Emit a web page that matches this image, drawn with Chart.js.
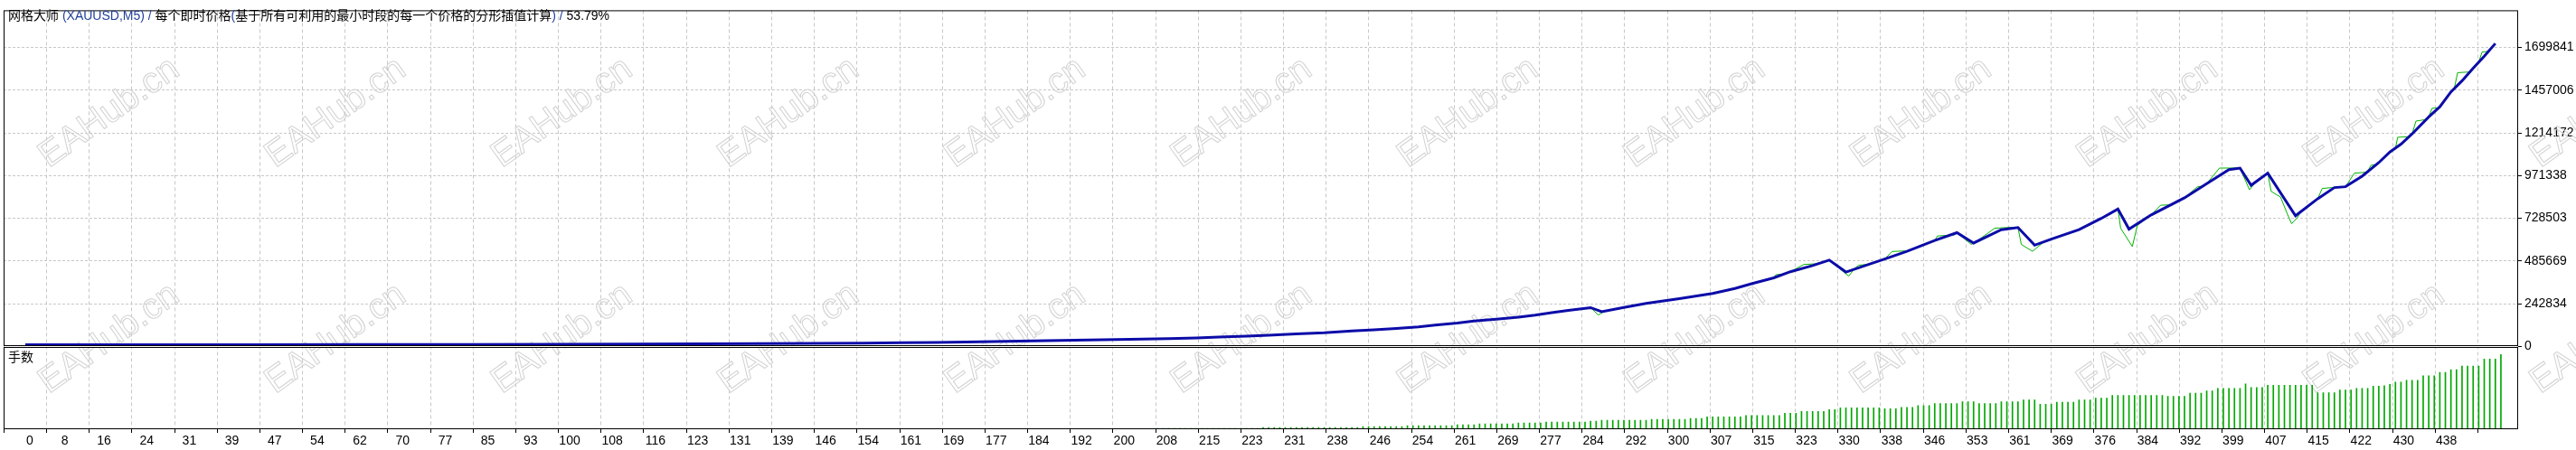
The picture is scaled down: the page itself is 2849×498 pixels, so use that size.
<!DOCTYPE html>
<html>
<head>
<meta charset="utf-8">
<title>网格大师 (XAUUSD,M5)</title>
<script src="https://cdn.jsdelivr.net/npm/chart.js@4.4.1/dist/chart.umd.min.js"></script>
<style>
  html, body { margin: 0; padding: 0; background: #fff; overflow: hidden; }
  canvas { display: block; }
</style>
</head>
<body>
<canvas id="chart" width="2849" height="498"></canvas>
<script>
// --- data ---
// title pieces: [text, is the latin part drawn in blue]
const titleParts = [
  ['网格大师 ', false],
  ['(XAUUSD,M5) / ', true],
  ['每个即时价格', false],
  ['(', true],
  ['基于所有可利用的最小时段的每一个价格的分形插值计算', false],
  [') / ', true],
  ['53.79%', false]
];
const lotsLabel = '手数';

const xTickLabels = ['0','8','16','24','31','39','47','54','62','70','77','85','93','100','108','116','123','131','139','146',
  '154','161','169','177','184','192','200','208','215','223','231','238','246','254','261','269','277','284','292','300',
  '307','315','323','330','338','346','353','361','369','376','384','392','399','407','415','422','430','438'];

const yTickValues = [0, 242834, 485669, 728503, 971338, 1214172, 1457006, 1699841];

// balance (blue) by trade number
const balanceTrades = [0,20,40,60,80,96,110,122,132,142,151,158,164,172,179,184,189,194,199,206,
  211,215,220,224,229,234,239,243,247,251,254,258,261,265,269,272,275,278,282,284,
  288,292,298,304,308,311,315,318,322,325,328,331,335,339,344,348,351,356,359,362,
  365,370,374,377,379,383,389,393,397,399,401,404,409,413,416,418,421,424,426,428,
  430,433,435,437,439,441,443,445];
const balanceValues = [10000,10200,10500,11000,11500,12300,13400,14600,15900,17400,19000,21000,23200,26500,30000,33000,36000,38500,41000,45000,
  49000,54000,59000,64000,72000,78000,88000,95000,103000,112000,122000,133000,145000,155000,167000,178000,192000,205000,221000,198000,
  222000,245000,272000,302000,330000,357000,390000,425000,460000,491000,423000,455000,497000,541000,603000,647000,588000,664000,676000,576000,
  610000,664000,728000,781000,667000,748000,845000,925000,1005000,1014000,916000,985000,743000,840000,903000,908000,968000,1045000,1105000,1150000,
  1208000,1305000,1362000,1447000,1510000,1582000,1650000,1722000];

// equity (green) by trade number
const equityTrades = [0,20,40,60,80,96,110,122,132,142,151,158,164,172,179,184,189,194,199,206,
  211,215,220,224,229,234,239,243,247,251,254,258,261,265,269,272,275,278,282,283.4,
  284.5,288,292,298,304,308,311,315,315.4,317,318,320.4,322.6,325,328.5,329.6,330.3,331.8,335,336.3,
  338.6,339,344,344.5,347.5,348,350.6,351.5,354.8,357.5,359,359.6,361.6,363.5,365,370,374,377,377.5,379.6,
  380.5,383,384.7,386.5,389,391.3,392.6,393,395.3,399,400.7,402,404,404.6,406.3,407.6,408.3,409.3,410,413,
  413.8,415.5,416,418,419.6,421.9,422.6,423.5,424,426,427,427.4,429.3,430,430.7,432.5,433,433.6,434.7,435,
  437,437.6,438.2,440.2,441,442,442.6,443.8,445];
const equityValues = [10000,10200,10500,11000,11500,12300,13400,14600,15900,17400,19000,21000,23200,26500,30000,33000,36000,38500,41000,45000,
  49000,54000,59000,64000,72000,78000,88000,95000,103000,112000,122000,133000,145000,155000,167000,178000,192000,205000,221000,179000,
  201000,222000,245000,272000,302000,330000,357000,390000,408000,412000,425000,466000,470000,491000,400000,444000,462000,466000,497000,540000,
  543000,541000,603000,628000,634000,647000,580000,597000,672000,677000,676000,580000,541000,590000,610000,664000,728000,781000,672000,568000,
  688000,748000,803000,805000,845000,907000,913000,925000,1014000,1014000,891000,939000,985000,882000,849000,748000,698000,731000,767000,840000,
  898000,903000,903000,908000,985000,991000,1030000,1034000,1045000,1105000,1127000,1189000,1192000,1208000,1281000,1290000,1305000,1354000,1356000,1362000,
  1447000,1466000,1556000,1560000,1582000,1616000,1673000,1678000,1722000];

// lot size of trades 1..445
const lots = [
  0.01,0.01,0.01,0.01,0.01,0.01,0.01,0.01,0.01,0.01,0.01,0.01,0.01,0.01,0.01,0.01,0.01,0.01,0.01,0.01,
  0.01,0.01,0.01,0.01,0.01,0.01,0.01,0.01,0.01,0.01,0.01,0.01,0.01,0.01,0.01,0.01,0.01,0.01,0.01,0.01,
  0.01,0.01,0.01,0.01,0.01,0.01,0.01,0.01,0.01,0.01,0.01,0.01,0.01,0.01,0.01,0.01,0.01,0.01,0.01,0.01,
  0.01,0.01,0.01,0.01,0.01,0.01,0.01,0.01,0.01,0.01,0.01,0.01,0.01,0.01,0.01,0.01,0.01,0.01,0.01,0.01,
  0.01,0.01,0.01,0.01,0.01,0.01,0.01,0.01,0.01,0.01,0.01,0.01,0.01,0.01,0.01,0.01,0.01,0.01,0.01,0.01,
  0.02,0.02,0.02,0.02,0.02,0.02,0.02,0.02,0.02,0.02,0.02,0.02,0.02,0.02,0.02,0.02,0.02,0.02,0.02,0.02,
  0.02,0.02,0.02,0.02,0.02,0.02,0.02,0.02,0.02,0.02,0.02,0.02,0.02,0.02,0.02,0.02,0.02,0.02,0.02,0.02,
  0.02,0.02,0.02,0.02,0.02,0.02,0.02,0.02,0.02,0.02,0.03,0.03,0.03,0.03,0.03,0.03,0.03,0.03,0.03,0.03,
  0.03,0.03,0.03,0.03,0.03,0.03,0.03,0.03,0.03,0.03,0.03,0.03,0.03,0.03,0.03,0.04,0.04,0.04,0.04,0.04,
  0.04,0.04,0.04,0.04,0.04,0.04,0.04,0.04,0.04,0.04,0.05,0.05,0.05,0.05,0.05,0.05,0.05,0.05,0.05,0.05,
  0.05,0.05,0.05,0.1,0.1,0.1,0.1,0.1,0.1,0.1,0.1,0.1,0.1,0.1,0.1,0.1,0.1,0.1,0.1,0.1,0.1,
  0.1,0.2,0.2,0.2,0.2,0.2,0.2,0.2,0.2,0.2,0.2,0.2,0.2,0.2,0.2,0.2,0.2,0.2,0.2,0.3,
  0.3,0.3,0.3,0.3,0.3,0.3,0.3,0.4,0.4,0.4,0.4,0.4,0.4,0.4,0.4,0.4,0.5,0.5,0.5,0.5,
  0.6,0.6,0.6,0.6,0.6,0.6,0.6,0.7,0.7,0.7,0.7,0.7,0.8,0.8,0.8,0.8,0.8,0.8,0.8,0.8,
  0.9,0.9,1.0,1.0,1.0,1.0,1.0,1.0,1.0,1.0,1.0,1.1,1.1,1.1,1.1,1.1,1.1,1.1,1.2,1.2,
  1.2,1.4,1.4,1.4,1.4,1.4,1.4,1.4,1.55,1.55,1.55,1.55,1.55,1.55,1.55,1.8,1.8,1.8,2.0,2.0,
  2.0,2.0,2.0,2.2,2.2,2.4,2.4,2.4,2.4,2.4,2.4,2.4,2.4,2.3,2.3,2.3,2.45,2.45,2.45,2.65,
  2.65,2.65,2.9,2.9,2.9,2.9,2.9,3.1,3.1,3.1,2.9,2.9,2.9,2.9,3.1,3.1,3.1,3.1,3.3,3.3,
  3.3,2.8,2.8,2.8,3.05,3.05,3.05,3.05,3.3,3.3,3.3,3.5,3.5,3.5,3.8,3.8,3.8,3.8,3.8,3.8,
  3.8,3.8,3.8,3.8,3.7,3.7,3.7,3.7,4.05,4.05,4.05,4.3,4.3,4.6,4.6,4.6,4.6,4.6,5.1,4.7,
  4.7,4.7,4.95,4.95,4.95,4.95,4.95,4.95,4.95,4.95,4.95,4.1,4.1,4.1,4.1,4.4,4.4,4.4,4.6,4.6,
  4.6,4.85,4.85,4.9,5.05,5.3,5.3,5.5,5.5,5.5,6.0,6.0,6.0,6.4,6.4,6.7,6.7,7.1,7.1,7.1,
  7.1,7.9,7.9,7.9,8.4
];

// --- look ---
const FONT = "'Liberation Sans', 'Noto Sans CJK SC', sans-serif";
const BALANCE_COLOR = '#0c0ca8';
const EQUITY_COLOR = '#00b400';
const LOTS_COLOR = '#00a800';
const GRID_COLOR = '#c8c8c8';
const TITLE_BLUE = '#1f3f9c';

const xGridStep = Number(xTickLabels[xTickLabels.length - 1]) / (xTickLabels.length - 1);

function toPoints(xs, ys) {
  return xs.map((x, i) => ({ x: x, y: ys[i] }));
}

// frames, watermark, title and x labels in the MT4 tester style
const mt4Panels = {
  id: 'mt4Panels',
  beforeDraw(chart) {
    const ctx = chart.ctx;
    ctx.save();
    ctx.fillStyle = '#fff';
    ctx.fillRect(0, 0, chart.width, chart.height);
    ctx.restore();
  },
  beforeDatasetsDraw(chart) {
    const ctx = chart.ctx;
    ctx.save();
    ctx.font = "40px 'Liberation Sans', sans-serif";
    ctx.strokeStyle = '#d2d2d2';
    ctx.lineWidth = 1;
    ctx.textAlign = 'center';
    ctx.textBaseline = 'middle';
    [125, 375].forEach(cy => {
      for (let i = 0; i < 12; i++) {
        ctx.save();
        ctx.translate(121 + 250.5 * i, cy);
        ctx.rotate(-35.5 * Math.PI / 180);
        ctx.strokeText('EAHub.cn', 0, 0);
        ctx.restore();
      }
    });
    ctx.restore();
  },
  afterDraw(chart) {
    const ctx = chart.ctx;
    const area = chart.chartArea;
    const xs = chart.scales.x;
    const ys = chart.scales.y;
    const left = area.left + 0.5, right = area.right - 0.5;
    const top = area.top + 0.5, bottom = area.bottom - 0.5;
    const sep = Math.round(ys.getPixelForValue(0)) - 0.5;

    ctx.save();
    ctx.fillStyle = '#fff';
    ctx.fillRect(left + 0.5, sep + 0.5, right - left - 1, 1);
    ctx.strokeStyle = '#000';
    ctx.lineWidth = 1;
    ctx.strokeRect(left, top, right - left, sep - top);
    ctx.strokeRect(left, sep + 2, right - left, bottom - sep - 2);

    ctx.font = '14px ' + FONT;
    ctx.textBaseline = 'middle';
    ctx.textAlign = 'left';
    let tx = 9;
    titleParts.forEach(([txt, blue]) => {
      ctx.fillStyle = blue ? TITLE_BLUE : '#000';
      ctx.fillText(txt, tx, 18);
      tx += ctx.measureText(txt).width;
    });
    ctx.fillStyle = '#000';
    ctx.fillText(lotsLabel, 9, sep + 14);

    ctx.textBaseline = 'alphabetic';
    xTickLabels.forEach((lab, k) => {
      const px = xs.getPixelForValue(k * xGridStep);
      if (k === 0) {
        ctx.textAlign = 'left';
        ctx.fillText(lab, px + 1, 492);
      } else {
        ctx.textAlign = 'right';
        ctx.fillText(lab, px + 0.5, 492);
      }
    });
    ctx.restore();
  }
};

new Chart(document.getElementById('chart'), {
  type: 'line',
  data: {
    datasets: [
      {
        label: 'Balance',
        data: toPoints(balanceTrades, balanceValues),
        borderColor: BALANCE_COLOR,
        borderWidth: 3,
        pointRadius: 0,
        tension: 0,
        order: 0,
        yAxisID: 'y'
      },
      {
        label: 'Equity',
        data: toPoints(equityTrades, equityValues),
        borderColor: EQUITY_COLOR,
        borderWidth: 1,
        pointRadius: 0,
        tension: 0,
        order: 1,
        yAxisID: 'y'
      },
      {
        type: 'bar',
        label: lotsLabel,
        data: lots.map((v, i) => ({ x: i + 1, y: v })),
        backgroundColor: LOTS_COLOR,
        barThickness: 1,
        order: 2,
        yAxisID: 'yLots'
      }
    ]
  },
  options: {
    responsive: false,
    animation: false,
    devicePixelRatio: 1,
    layout: { padding: { left: 4, top: 4, right: 0, bottom: 0 } },
    plugins: {
      legend: { display: false },
      tooltip: { enabled: false }
    },
    scales: {
      x: {
        type: 'linear',
        position: 'bottom',
        min: 0,
        max: 445.2,
        afterBuildTicks: s => { s.ticks = xTickLabels.map((_, k) => ({ value: k * xGridStep })); },
        afterFit: s => { s.height = 23; },
        ticks: { display: false, autoSkip: false },
        grid: { color: GRID_COLOR, lineWidth: 1, drawTicks: true, tickLength: 4, tickColor: '#000' },
        border: { display: false, dash: [4, 3] }
      },
      y: {
        type: 'linear',
        position: 'right',
        min: -470070,
        max: 1910600,
        afterBuildTicks: s => { s.ticks = yTickValues.map(v => ({ value: v })); },
        afterFit: s => { s.width = 64; },
        ticks: {
          autoSkip: false,
          color: '#000',
          padding: 3,
          font: { family: FONT, size: 14 },
          callback: v => String(v)
        },
        grid: { color: GRID_COLOR, lineWidth: 1, drawTicks: true, tickLength: 4, tickColor: '#000' },
        border: { display: false, dash: [3, 2] }
      },
      yLots: {
        type: 'linear',
        display: false,
        min: 0,
        max: 47.1
      }
    }
  },
  plugins: [mt4Panels]
});
</script>
</body>
</html>
